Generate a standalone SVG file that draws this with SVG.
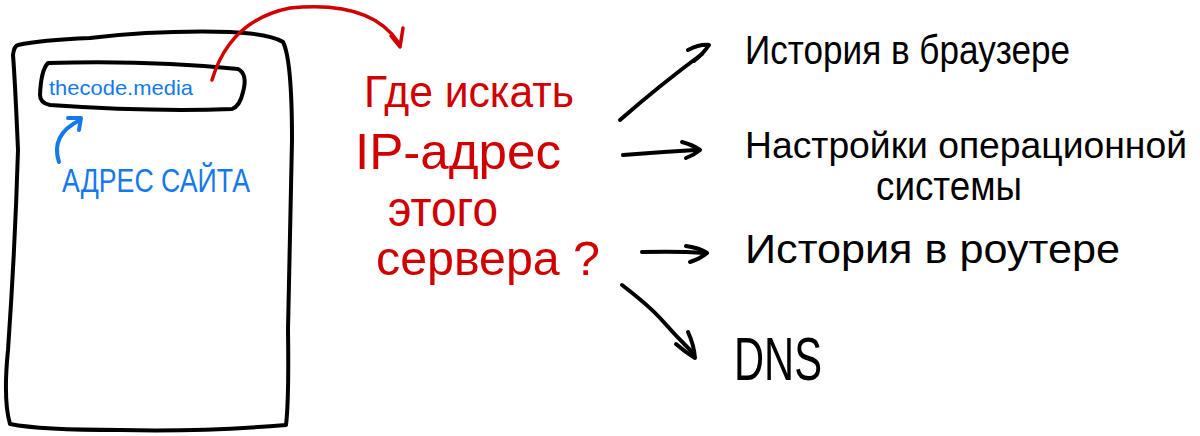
<svg xmlns="http://www.w3.org/2000/svg" width="1200" height="436" viewBox="0 0 1200 436">
<style>
.ink{fill:none;stroke:#000;stroke-width:4;stroke-linecap:round;stroke-linejoin:round}
.red{fill:none;stroke:#d10000;stroke-width:3.5;stroke-linecap:round;stroke-linejoin:round}
.blue{fill:none;stroke:#1479ec;stroke-width:4;stroke-linecap:round;stroke-linejoin:round}
.tb{font-family:"Liberation Sans",Arial,sans-serif;fill:#1479ec}
.tr{font-family:"Liberation Sans",Arial,sans-serif;fill:#d10000}
.tk{font-family:"Liberation Sans",Arial,sans-serif;fill:#000}
</style>
<rect width="1200" height="436" fill="#fff"/>
<g id="page">
<path class="ink" d="M18,45 Q40,40 90,38 Q160,30 230,32 Q270,34 283,42 Q292,60 292,140 Q290,250 288,330 Q289,400 286,425 Q200,432 120,430 Q40,430 10,424 Q3,400 8,350 Q15,250 18,150 Q15,80 13,55 Q14,46 18,45 Z"/>
</g>
<g id="addressbar">
<path class="ink" d="M48,63 Q150,60 238,69 Q248,74 243,92 Q240,106 232,109 Q150,112 50,105 Q40,103 40,95 Q41,70 48,63 Z"/>
<text class="tb" x="49" y="95" font-size="21" textLength="144" lengthAdjust="spacingAndGlyphs">thecode.media</text>
</g>
<g id="site-label">
<text class="tb" x="62" y="192" font-size="33" textLength="188" lengthAdjust="spacingAndGlyphs">АДРЕС САЙТА</text>
</g>
<g id="question">
<text class="tr" x="364" y="107" font-size="44" textLength="210" lengthAdjust="spacingAndGlyphs">Где искать</text>
<text class="tr" x="355" y="169" font-size="50" textLength="206" lengthAdjust="spacingAndGlyphs">IP-адрес</text>
<text class="tr" x="388" y="226" font-size="50" textLength="110" lengthAdjust="spacingAndGlyphs">этого</text>
<text class="tr" x="376" y="275" font-size="48" textLength="224" lengthAdjust="spacingAndGlyphs">сервера ?</text>
</g>
<g id="opt-browser">
<text class="tk" x="745" y="64" font-size="40" textLength="325" lengthAdjust="spacingAndGlyphs">История в браузере</text>
</g>
<g id="opt-os">
<text class="tk" x="745" y="158" font-size="37" textLength="442" lengthAdjust="spacingAndGlyphs">Настройки операционной</text>
<text class="tk" x="876" y="200" font-size="40" textLength="146" lengthAdjust="spacingAndGlyphs">системы</text>
</g>
<g id="opt-router">
<text class="tk" x="745" y="263" font-size="40" textLength="375" lengthAdjust="spacingAndGlyphs">История в роутере</text>
</g>
<g id="opt-dns">
<text class="tk" x="734" y="380" font-size="62" textLength="88" lengthAdjust="spacingAndGlyphs">DNS</text>
</g>
<g id="connectors">
<path class="blue" d="M59,162 Q50,135 80,120"/>
<path class="blue" d="M68,118 L81,118 L79,130"/>
<path class="red" d="M212,80 Q230,20 290,8 Q370,0 398,42"/>
<path class="red" d="M391,36 L400,47 L403,28"/>
<path class="ink" d="M620,120 Q660,85 702,54"/>
<path class="ink" d="M688,50 Q700,44 709,45 Q703,54 694,61"/>
<path class="ink" d="M623,155 Q660,152 696,150"/>
<path class="ink" d="M682,142 Q693,145 700,150 Q694,155 686,158"/>
<path class="ink" d="M642,252 Q680,251 704,253"/>
<path class="ink" d="M686,246 Q700,248 707,253 Q700,259 690,262"/>
<path class="ink" d="M622,285 Q648,305 660,318 Q675,335 692,352"/>
<path class="ink" d="M688,332 Q694,345 695,358 Q685,352 676,344"/>
</g>
</svg>
